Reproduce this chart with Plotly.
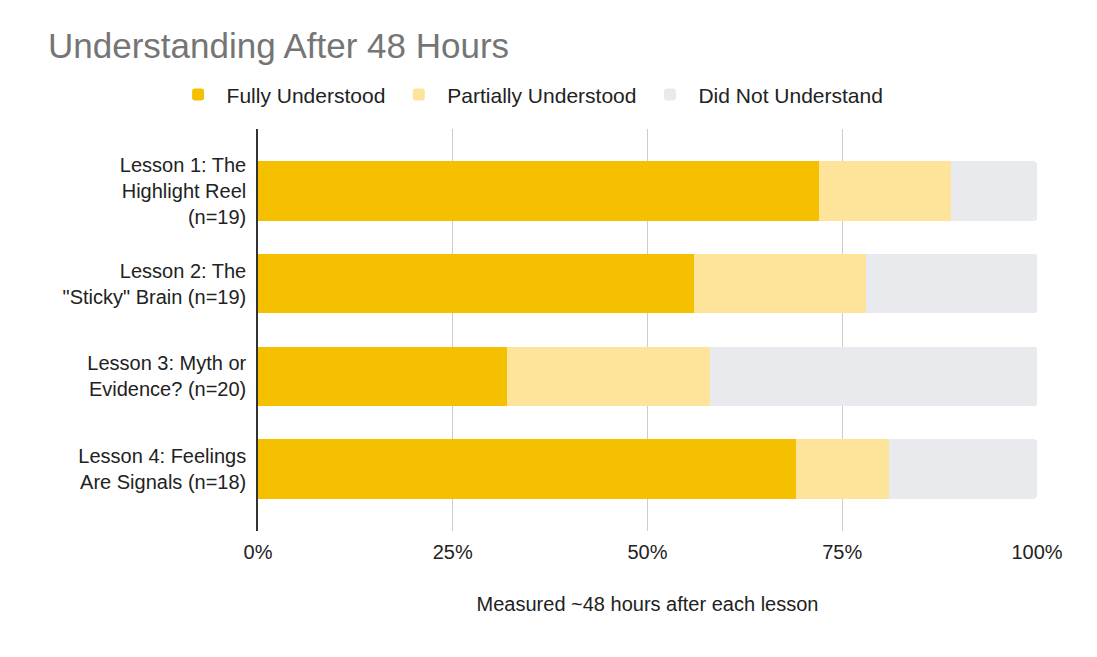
import plotly.graph_objects as go

# lessons and share of pupils (%) in each group
lessons = [
    "Lesson 1: The<br>Highlight Reel<br>(n=19)",
    "Lesson 2: The<br>\"Sticky\" Brain (n=19)",
    "Lesson 3: Myth or<br>Evidence? (n=20)",
    "Lesson 4: Feelings<br>Are Signals (n=18)",
]
fully = [72, 56, 32, 69]
partially = [17, 22, 26, 12]
did_not = [11, 22, 42, 19]

ticks = [0, 25, 50, 75, 100]
tick_text = ["0%", "25%", "50%", "75%", "100%"]

font_name = "Liberation Sans, Arial, sans-serif"

fig = go.Figure()
fig.add_trace(go.Bar(y=lessons, x=fully, name="Fully Understood",
                     orientation="h", marker=dict(color="#F4C000", line=dict(width=0))))
fig.add_trace(go.Bar(y=lessons, x=partially, name="Partially Understood",
                     orientation="h", marker=dict(color="#FEE49B", line=dict(width=0))))
fig.add_trace(go.Bar(y=lessons, x=did_not, name="Did Not Understand",
                     orientation="h", marker=dict(color="#E8EAED", line=dict(width=0))))

fig.update_layout(
    width=1097, height=657,
    barmode="stack", bargap=0.36, barcornerradius=3,
    paper_bgcolor="white", plot_bgcolor="white",
    margin=dict(l=250, r=68, t=121, b=134),
    font=dict(family=font_name, size=20, color="#222222"),
    title=dict(text="Understanding After 48 Hours", x=40 / 1097, xref="container",
               xanchor="left", y=1 - 38 / 657, yref="container", yanchor="middle",
               font=dict(size=35, color="#757575")),
    legend=dict(orientation="h", x=0.348, xanchor="center", y=1.085, yanchor="middle",
                font=dict(size=21, color="#222222"), itemwidth=47, traceorder="normal"),
    hovermode=False,
)
fig.update_xaxes(range=[0, 100], tickvals=ticks, ticktext=tick_text,
                 showgrid=True, gridcolor="#CCCCCC", gridwidth=1, zeroline=False,
                 ticks="outside", ticklen=3, tickcolor="white",
                 title=dict(text="Measured ~48 hours after each lesson", standoff=34,
                            font=dict(size=20, color="#222222")))
fig.update_yaxes(type="category", range=[3.67, -0.67], showline=True, linecolor="#333333",
                 linewidth=1.5, showgrid=False, ticks="outside", ticklen=6, tickcolor="white")

fig.write_html("out.html")
